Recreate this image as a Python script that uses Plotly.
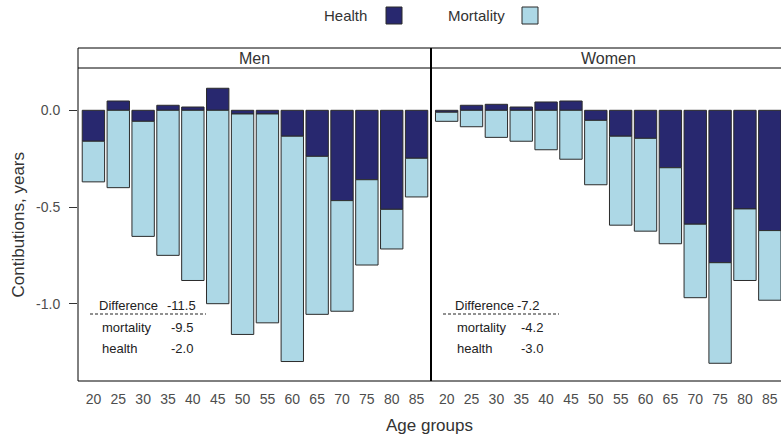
import plotly.graph_objects as go

# Age groups (lower bound of each 5-year band)
ages = ["20", "25", "30", "35", "40", "45", "50", "55", "60", "65", "70", "75", "80", "85"]

# Contributions (years) by age group
men_health = [-0.160, 0.048, -0.057, 0.026, 0.017, 0.114, -0.019, -0.019,
              -0.134, -0.238, -0.467, -0.359, -0.512, -0.248]
men_mortality = [-0.210, -0.400, -0.595, -0.750, -0.880, -1.000, -1.140, -1.080,
                 -1.165, -0.817, -0.572, -0.441, -0.205, -0.200]
women_health = [-0.010, 0.026, 0.031, 0.017, 0.043, 0.048, -0.052, -0.134,
                 -0.145, -0.297, -0.589, -0.788, -0.510, -0.622]
women_mortality = [-0.047, -0.085, -0.140, -0.160, -0.204, -0.253, -0.333, -0.460,
                   -0.480, -0.393, -0.380, -0.520, -0.370, -0.360]

# Summary table shown inside each panel
summary_labels = ["Difference", "mortality", "health"]
men_summary = ["-11.5", "-9.5", "-2.0"]
women_summary = ["-7.2", "-4.2", "-3.0"]

panel_titles = ["Men", "Women"]
legend_labels = ["Health", "Mortality"]

HEALTH_COLOR = "#28286F"
MORT_COLOR = "#ADD8E6"
EDGE = "#2b2b2b"

W, H = 781, 437


def px(x):
    return x / W


def py(y):
    return 1 - y / H


fig = go.Figure()

for xa, ya, hv, mv in [("x", "y", men_health, men_mortality),
                       ("x2", "y2", women_health, women_mortality)]:
    fig.add_trace(go.Bar(x=ages, y=hv, xaxis=xa, yaxis=ya, name=legend_labels[0],
                         marker=dict(color=HEALTH_COLOR, line=dict(color=EDGE, width=1)),
                         showlegend=False))
    fig.add_trace(go.Bar(x=ages, y=mv, xaxis=xa, yaxis=ya, name=legend_labels[1],
                         marker=dict(color=MORT_COLOR, line=dict(color=EDGE, width=1)),
                         showlegend=False))

# Panel geometry (pixels)
LEFT, MID, RIGHT = 78, 431, 781
STRIP_TOP, PANEL_TOP, PANEL_BOT = 48, 68, 381
YRANGE = [-1.3997, 0.2187]

tickfont = dict(family="Liberation Sans, Arial, sans-serif", size=14, color="#4d4d4d")

fig.update_layout(
    width=W, height=H,
    margin=dict(l=0, r=0, t=0, b=0),
    paper_bgcolor="white", plot_bgcolor="white",
    barmode="relative", bargap=0.1,
    font=dict(family="Liberation Sans, Arial, sans-serif"),
    xaxis=dict(domain=[px(LEFT), px(MID)], type="category", range=[-0.62, 13.58],
               showgrid=False, zeroline=False, showline=False, ticks="",
               tickfont=tickfont, ticklabelstandoff=8, fixedrange=True),
    xaxis2=dict(domain=[px(MID), 1.0], type="category", range=[-0.63, 13.45],
                showgrid=False, zeroline=False, showline=False, ticks="",
                tickfont=tickfont, ticklabelstandoff=8, anchor="y2", fixedrange=True),
    yaxis=dict(domain=[py(PANEL_BOT), py(PANEL_TOP)], range=YRANGE,
               tickvals=[0.0, -0.5, -1.0], ticktext=["0.0", "-0.5", "-1.0"],
               ticks="outside", ticklen=8, tickcolor="#333333", tickwidth=1,
               showgrid=False, zeroline=False, showline=False,
               tickfont=tickfont, ticklabelstandoff=6, fixedrange=True),
    yaxis2=dict(domain=[py(PANEL_BOT), py(PANEL_TOP)], range=YRANGE, anchor="x2",
                showticklabels=False, ticks="", showgrid=False, zeroline=False,
                showline=False, fixedrange=True),
)

shapes = []
# Panel frames including the strips
shapes.append(dict(type="rect", xref="paper", yref="paper",
                   x0=px(LEFT), x1=px(MID), y0=py(PANEL_BOT), y1=py(STRIP_TOP),
                   line=dict(color="black", width=1)))
shapes.append(dict(type="rect", xref="paper", yref="paper",
                   x0=px(MID), x1=px(RIGHT + 4), y0=py(PANEL_BOT), y1=py(STRIP_TOP),
                   line=dict(color="black", width=1)))
# Strip separator
shapes.append(dict(type="line", xref="paper", yref="paper",
                   x0=px(LEFT), x1=1.0, y0=py(PANEL_TOP), y1=py(PANEL_TOP),
                   line=dict(color="black", width=1)))
# Thicker divider between panels
shapes.append(dict(type="line", xref="paper", yref="paper",
                   x0=px(MID), x1=px(MID), y0=py(PANEL_BOT), y1=py(STRIP_TOP),
                   line=dict(color="black", width=2)))

annotations = []
txt_dark = "#222222"
title_col = "#333333"

# Strip titles
for title, (a, b) in zip(panel_titles, [(LEFT, MID), (MID, RIGHT + 4)]):
    annotations.append(dict(text=title, xref="paper", yref="paper",
                            x=px((a + b) / 2), y=py(58.5), xanchor="center", yanchor="middle",
                            showarrow=False, font=dict(size=16, color=title_col)))

# Summary tables
table_specs = [
    (men_summary, [99, 102, 101.5], [167, 171, 171], (90, 206)),
    (women_summary, [454.5, 457, 456.5], [516.5, 521, 521], (443, 559)),
]
row_y = [305.5, 327.5, 348.5]
for values, lx, vx, (d0, d1) in table_specs:
    for lab, val, x_l, x_v, yy in zip(summary_labels, values, lx, vx, row_y):
        annotations.append(dict(text=lab, xref="paper", yref="paper", x=px(x_l - 2), y=py(yy),
                                xanchor="left", yanchor="middle", showarrow=False,
                                font=dict(size=13, color=txt_dark)))
        annotations.append(dict(text=val, xref="paper", yref="paper", x=px(x_v - 2), y=py(yy),
                                xanchor="left", yanchor="middle", showarrow=False,
                                font=dict(size=13, color=txt_dark)))
    shapes.append(dict(type="line", xref="paper", yref="paper",
                       x0=px(d0), x1=px(d1), y0=py(314), y1=py(314),
                       line=dict(color=txt_dark, width=1, dash="3px,2px")))

# Axis titles
annotations.append(dict(text="Contibutions, years", xref="paper", yref="paper",
                        x=px(17.5), y=py(225), xanchor="center", yanchor="middle",
                        textangle=-90, showarrow=False, font=dict(size=17, color=title_col)))
annotations.append(dict(text="Age groups", xref="paper", yref="paper",
                        x=px(430), y=py(425), xanchor="center", yanchor="middle",
                        showarrow=False, font=dict(size=17, color=title_col)))

# Legend: label followed by a colour key
legend_items = [(legend_labels[0], HEALTH_COLOR, 323, 386),
                (legend_labels[1], MORT_COLOR, 447, 522)]
for lab, col, tx, bx in legend_items:
    annotations.append(dict(text=lab, xref="paper", yref="paper", x=px(tx - 1), y=py(16),
                            xanchor="left", yanchor="middle", showarrow=False,
                            font=dict(size=15, color=title_col)))
    shapes.append(dict(type="rect", xref="paper", yref="paper",
                       x0=px(bx), x1=px(bx + 16), y0=py(24), y1=py(7),
                       fillcolor=col, line=dict(color=EDGE, width=1)))

fig.update_layout(shapes=shapes, annotations=annotations)

fig.write_html("out.html")
